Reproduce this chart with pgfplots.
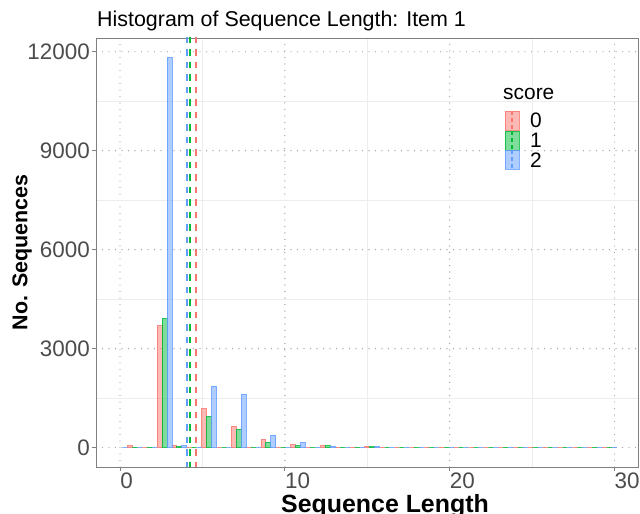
\documentclass[border=0pt]{standalone}
\usepackage{fontspec}
\setmainfont{Liberation Sans}
\usepackage{pgfplots}
\usepackage{pgfplotstable}
\pgfplotsset{compat=1.18}
\definecolor{c0}{HTML}{F8766D}
\definecolor{c1}{HTML}{00BA38}
\definecolor{c2}{HTML}{619CFF}

% bin centres (bin width 0.9) and counts per score
\pgfplotstableread{
x y
0.9 60
1.8 0
2.7 3700
3.6 50
4.5 0
5.4 1180
6.3 0
7.2 650
8.1 0
9.0 250
9.9 0
10.8 90
11.7 0
12.6 50
13.5 0
14.4 0
15.3 30
16.2 0
17.1 0
18.0 0
18.9 0
19.8 0
20.7 0
21.6 0
22.5 0
23.4 0
24.3 0
25.2 0
26.1 0
27.0 0
27.9 0
28.8 0
29.7 0
}\redtab
\pgfplotstableread{
x y
0.9 10
1.8 15
2.7 3920
3.6 20
4.5 0
5.4 950
6.3 0
7.2 560
8.1 0
9.0 160
9.9 0
10.8 60
11.7 0
12.6 50
13.5 0
14.4 0
15.3 30
16.2 0
17.1 0
18.0 0
18.9 0
19.8 0
20.7 0
21.6 0
22.5 0
23.4 0
24.3 0
25.2 0
26.1 0
27.0 0
27.9 0
28.8 0
29.7 0
}\greentab
\pgfplotstableread{
x y
0.0 0
0.9 0
1.8 0
2.7 11830
3.6 60
4.5 0
5.4 1860
6.3 0
7.2 1610
8.1 0
9.0 380
9.9 0
10.8 160
11.7 0
12.6 40
13.5 0
14.4 0
15.3 30
16.2 0
17.1 0
18.0 0
18.9 0
19.8 0
20.7 0
21.6 0
22.5 0
23.4 0
24.3 0
25.2 0
26.1 0
27.0 0
27.9 0
28.8 0
29.7 0
}\bluetab

\begin{document}
\begin{tikzpicture}
\useasboundingbox (-96bp,-47bp) rectangle (544bp,467bp);
\begin{axis}[
  at={(0,0)}, anchor=south west,
  scale only axis, width=542bp, height=429bp,
  xmin=-1.46, xmax=31.43, ymin=-588, ymax=12414,
  scaled x ticks=false, scaled y ticks=false,
  xtick={0,10,20,30}, xticklabels={0,10,20,30},
  ytick={0,3000,6000,9000,12000}, yticklabels={0,3000,6000,9000,12000},
  minor xtick={5,15,25}, minor ytick={1500,4500,7500,10500},
  grid=both,
  major grid style={black!35, line width=1.3bp, line cap=round, dash pattern=on 0bp off 6.5bp},
  minor grid style={black!7, line width=0.6bp},
  axis line style={black!50, line width=0.8bp},
  tick align=outside, tick pos=left,
  major tick length=4bp, minor tick length=0pt,
  major tick style={black!50, line width=0.8bp},
  tick label style={font=\fontsize{22.5}{26}\selectfont, text=black!70},
  xticklabel style={anchor=north west, inner sep=0pt, yshift=-2bp},
  yticklabel style={anchor=east, inner sep=0pt, xshift=-2bp},
  clip=true,
]
\addplot[ybar, bar width=0.3, bar shift=-0.3, fill=c0, fill opacity=0.5, draw=c0, draw opacity=0.8, line width=0.9bp] table[x=x,y=y] {\redtab};
\addplot[ybar, bar width=0.3, bar shift=0, fill=c1, fill opacity=0.5, draw=c1, draw opacity=0.8, line width=0.9bp] table[x=x,y=y] {\greentab};
\addplot[ybar, bar width=0.3, bar shift=0.3, fill=c2, fill opacity=0.5, draw=c2, draw opacity=0.8, line width=0.9bp] table[x=x,y=y] {\bluetab};
\addplot[c0, line width=1.8bp, dash pattern=on 6.5bp off 6bp] coordinates {(4.63,-1000) (4.63,13000)};
\addplot[c1, line width=1.8bp, dash pattern=on 6.5bp off 6bp] coordinates {(4.26,-1000) (4.26,13000)};
\addplot[c2, line width=1.8bp, dash pattern=on 6.5bp off 6bp] coordinates {(4.04,-1000) (4.04,13000)};
\end{axis}
% title
\node[anchor=base west, inner sep=0pt, font=\fontsize{21.5}{25}\selectfont] at (1bp,440bp) {Histogram of Sequence Length: Item 1};
% axis titles
\node[anchor=base, inner sep=0pt, font=\fontsize{25}{29}\bfseries] at (289bp,-45bp) {Sequence Length};
\node[anchor=center, rotate=90, inner sep=0pt, font=\fontsize{21.5}{26}\bfseries] at (-74bp,214.5bp) {No. Sequences};
% legend
\node[anchor=base west, inner sep=0pt, font=\fontsize{21}{25}\selectfont] at (407bp,367bp) {score};
\foreach \c/\yb/\lab in {c0/337/0, c1/317/1, c2/297.5/2}{
  \fill[\c, opacity=0.5] (409bp,\yb bp) rectangle (423bp,\yb bp+19bp);
  \draw[\c, opacity=0.8, line width=0.9bp] (409bp,\yb bp) rectangle (423bp,\yb bp+19bp);
  \draw[\c, line width=1.4bp, dash pattern=on 4bp off 3bp] (416bp,\yb bp+1bp) -- (416bp,\yb bp+18bp);
  \node[anchor=west, inner sep=0pt, font=\fontsize{21}{25}\selectfont] at (434bp,\yb bp+9.5bp) {\lab};
}
\end{tikzpicture}
\end{document}
